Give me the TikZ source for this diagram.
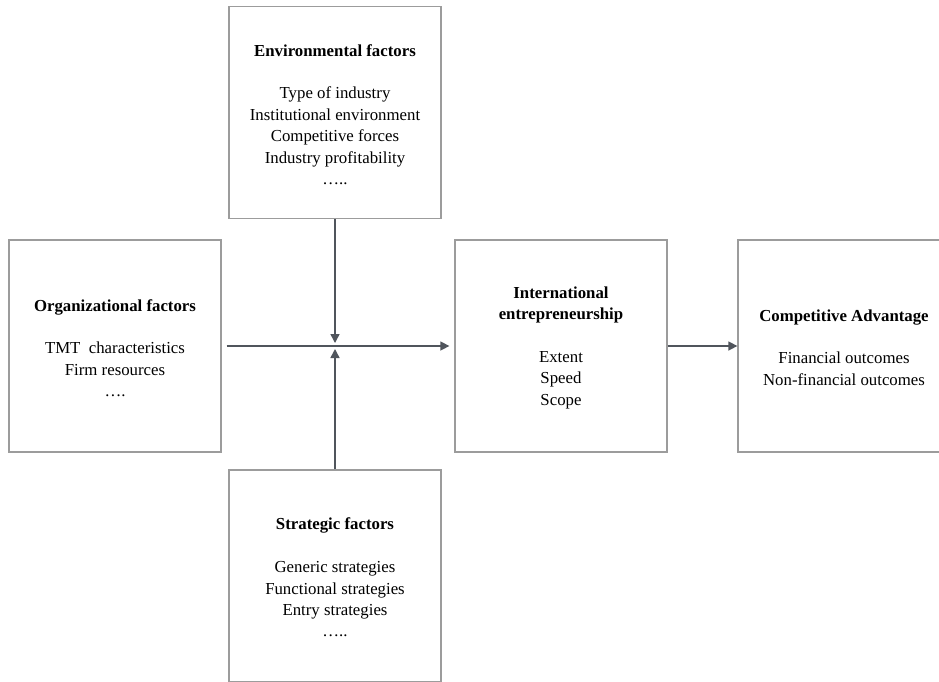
\documentclass[tikz,border=0pt]{standalone}
\usepackage{fontspec}
\setmainfont{Liberation Serif}
\usetikzlibrary{arrows.meta}
\definecolor{boxline}{HTML}{9C9C9C}
\definecolor{arrowline}{HTML}{50555C}
\tikzset{
  factorbox/.style={draw=boxline, line width=1.3pt, minimum width=212pt, minimum height=212pt,
    inner sep=0pt},
  boxtext/.style={inner sep=0pt, align=center, font=\fontsize{16.8}{21.4}\selectfont, text=black},
  link/.style={draw=arrowline, line width=1.5pt, -{Triangle[length=9pt,width=9pt]}}
}
\begin{document}
\begin{tikzpicture}[x=1pt, y=-1pt]
  \clip (0,0) rectangle (939,681);
  \fill[white] (0,0) rectangle (939,681);

  % the five boxes
  \node[factorbox] (env) at (335,112.5) {};
  \node[factorbox] (org) at (115,346) {};
  \node[factorbox] (ie) at (561,346) {};
  \node[factorbox] (ca) at (844,346) {};
  \node[factorbox] (strat) at (335,576) {};

  % their texts, set a little below the box centres
  \node[boxtext] (envtext) at ([yshift=-2pt]env.center)
    {\textbf{Environmental factors}\\[21.4pt]
     Type of industry\\ Institutional environment\\ Competitive forces\\ Industry profitability\\ …..};
  \node[boxtext] (orgtext) at ([yshift=-2pt]org.center)
    {\textbf{Organizational factors}\\[21.4pt]
     TMT~~characteristics\\ Firm resources\\ ….};
  \node[boxtext] (ietext) at ([yshift=-1.5pt]ie.center)
    {\textbf{International}\\ \textbf{entrepreneurship}\\[21.4pt]
     Extent\\ Speed\\ Scope};
  \node[boxtext] (catext) at ([yshift=-1.5pt]ca.center)
    {\textbf{Competitive Advantage}\\[21.4pt]
     Financial outcomes\\ Non-financial outcomes};
  \node[boxtext] (strattext) at ([yshift=-1.5pt]strat.center)
    {\textbf{Strategic factors}\\[21.4pt]
     Generic strategies\\ Functional strategies\\ Entry strategies\\ …..};

  \coordinate (meet) at (env.south |- org.east);

  \draw[link, shorten <=5pt, shorten >=5pt] (org) -- (ie);
  \draw[link, shorten >=3pt] (env.south) -- (meet);
  \draw[link, shorten >=3pt] (strat.north) -- (meet);
  \draw[link] (ie) -- (ca);
\end{tikzpicture}
\end{document}
